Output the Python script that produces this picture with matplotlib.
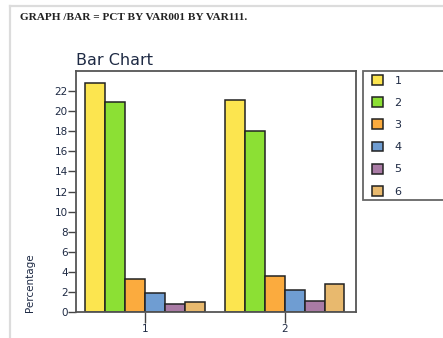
import matplotlib
matplotlib.use("Agg")
import matplotlib.pyplot as plt
from matplotlib.patches import Rectangle, Patch
from matplotlib.lines import Line2D
import numpy as np

# data
groups = ["1", "2"]
series_names = ["1", "2", "3", "4", "5", "6"]
pct_1 = [22.8, 20.9, 3.3, 1.85, 0.76, 1.02]
pct_2 = [21.1, 18.0, 3.55, 2.18, 1.06, 2.77]
colors = ["#FCE54F", "#8CE034", "#FBAB3E", "#6F9DD2", "#A97BA5", "#E8B96E"]
yticks = list(range(0, 24, 2))

W, H = 443, 338
fig = plt.figure(figsize=(W / 100, H / 100), dpi=100)
fig.patch.set_facecolor("white")

# light frame of the output viewer
fig.add_artist(Line2D([10 / W, 1], [1 - 6 / H, 1 - 6 / H], transform=fig.transFigure, color="#dcdcdc", lw=1.6))
fig.add_artist(Line2D([10 / W, 10 / W], [0, 1 - 6 / H], transform=fig.transFigure, color="#dcdcdc", lw=1.6))

fig.text(20 / W, 1 - 17 / H, "GRAPH /BAR = PCT BY VAR001 BY VAR111.", fontsize=8.1,
         family="Liberation Serif", weight="bold", color="#222222", va="center")

ax = fig.add_axes([76 / W, 1 - 312 / H, (356 - 76) / W, (312 - 71) / H])
data = np.array([pct_1, pct_2])
x = np.arange(1, len(groups) + 1)
bw = 0.1425
n = len(series_names)
for i in range(n):
    ax.bar(x + (i - (n - 1) / 2) * bw, data[:, i], width=bw, color=colors[i],
           edgecolor="#222222", linewidth=1.1)

ax.set_xlim(0.505, 2.51)
ax.set_ylim(0, 24.0)
ax.set_xticks(x)
ax.set_xticklabels(groups)
ax.set_yticks(yticks)
txtc = "#1e2a44"
ax.tick_params(axis="y", direction="out", length=6, width=1.0, color="#444444", labelsize=7.5, labelcolor=txtc, pad=0)
ax.tick_params(axis="x", direction="out", length=8, width=1.0, color="#444444", labelsize=7.5, labelcolor=txtc, pad=1)
for s in ax.spines.values():
    s.set_color("#555555")
    s.set_linewidth(1.3)

ax.set_title("Bar Chart", loc="left", fontsize=11.5, color="#1e2a44", pad=4, x=0.0)
fig.text(30 / W, 1 - 312 / H, "Percentage", rotation=90, fontsize=7.5, color=txtc, ha="center", va="bottom")

# legend box
fig.add_artist(Rectangle((363 / W, 1 - 200 / H), 0.5, (200 - 71) / H, transform=fig.transFigure,
                         facecolor="white", edgecolor="#666666", lw=1.3))
handles = [Patch(facecolor=c, edgecolor="#222222", linewidth=1.1) for c in colors]
leg = fig.legend(handles, series_names, loc="upper left", bbox_to_anchor=(370 / W, 1 - 73 / H),
                 frameon=False, fontsize=8, handlelength=1.0, handleheight=1.0,
                 labelspacing=1.02, handletextpad=1.0, borderpad=0.2, borderaxespad=0)
for t in leg.get_texts():
    t.set_color(txtc)

fig.savefig("out.png", dpi=100)
